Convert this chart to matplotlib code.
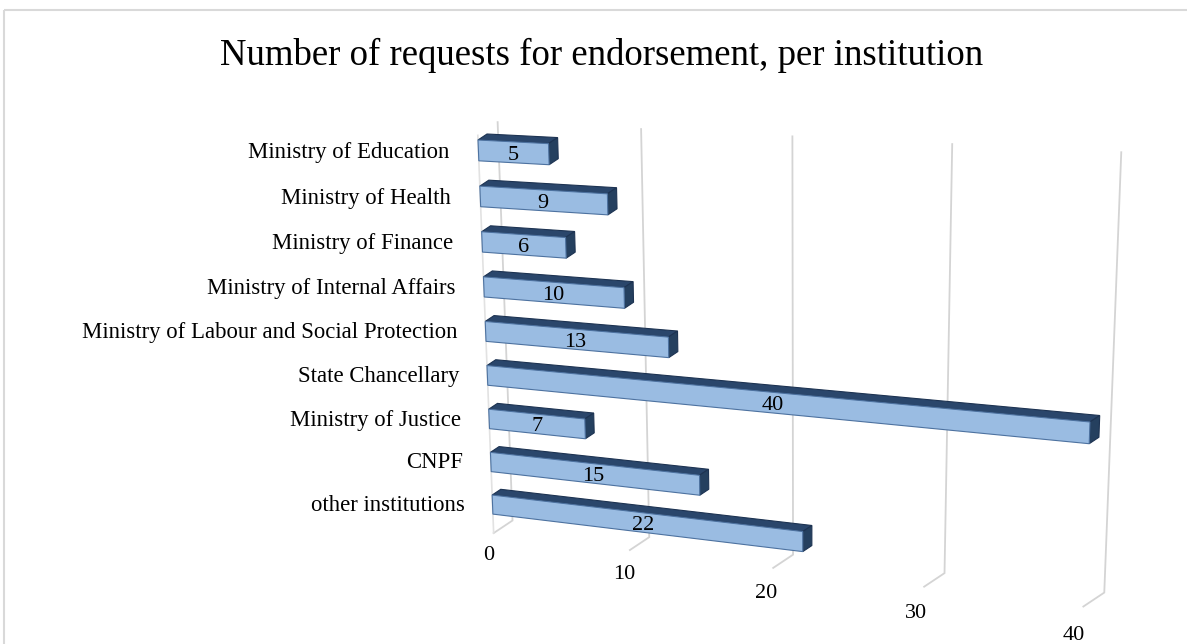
import matplotlib.pyplot as plt
from matplotlib.patches import Polygon, Rectangle

categories = ['Ministry of Education', 'Ministry of Health', 'Ministry of Finance',
              'Ministry of Internal Affairs', 'Ministry of Labour and Social Protection',
              'State Chancellary', 'Ministry of Justice', 'CNPF', 'other institutions']
values = [5, 9, 6, 10, 13, 40, 7, 15, 22]
ticks = [0, 10, 20, 30, 40]
title = 'Number of requests for endorsement, per institution'

# perspective camera (pixel space): v = value, r = row (down), d = depth (back)
BX, BY = 478.0, 140.0
KV, VX, VY = -0.00259, -4895.0, -138.0
KR, UX, UY = 0.00565, 805.0, 8350.0
EX, EY = 9.0, -6.0

HB = 0.45      # bar thickness in rows
DB = 1.0       # bar depth
D_WALL = 2.2
R_TOP = -0.1
R_FLOOR = 8.9
R_LABEL = 10.4


def proj(v, r, d=0.0):
    den = 1 + KV * v + KR * r
    x = (BX + KV * v * VX + KR * r * UX + d * EX) / den
    y = (BY + KV * v * VY + KR * r * UY + d * EY) / den
    return x, y


plt.rcParams['font.family'] = ['Liberation Serif', 'DejaVu Serif']

fig = plt.figure(figsize=(11.87, 6.44), dpi=100)
ax = fig.add_axes([0, 0, 1, 1])
ax.set_xlim(0, 1187)
ax.set_ylim(644, 0)
ax.axis('off')

# chart frame
ax.add_patch(Rectangle((4, 10), 1300, 700, fill=False, ec='#d9d9d9', lw=1.5))

grid_c = '#d4d4d4'
# back wall gridlines + floor segments
for t in ticks:
    p1 = proj(t, R_TOP, D_WALL)
    p2 = proj(t, R_FLOOR, D_WALL)
    p3 = proj(t, R_FLOOR, 0)
    ax.plot([p1[0], p2[0], p3[0]], [p1[1], p2[1], p3[1]], color=grid_c, lw=1.3,
            solid_joinstyle='miter', zorder=1)
# side wall front edge
p1 = proj(0, R_TOP, 0)
p2 = proj(0, R_FLOOR, 0)
ax.plot([p1[0], p2[0]], [p1[1], p2[1]], color='#e2e2e2', lw=1.2, zorder=1)

# bars
for i, val in enumerate(values):
    r0, r1 = i, i + HB
    top = [proj(0, r0, 0), proj(val, r0, 0), proj(val, r0, DB), proj(0, r0, DB)]
    end = [proj(val, r0, 0), proj(val, r0, DB), proj(val, r1, DB), proj(val, r1, 0)]
    front = [proj(0, r0, 0), proj(val, r0, 0), proj(val, r1, 0), proj(0, r1, 0)]
    ax.add_patch(Polygon(top, closed=True, fc='#2a466b', ec='#1d3352', lw=0.8, zorder=3))
    ax.add_patch(Polygon(end, closed=True, fc='#25405f', ec='#1d3352', lw=0.8, zorder=3))
    ax.add_patch(Polygon(front, closed=True, fc='#9abce2', ec='#4d72a0', lw=0.8, zorder=4))
    cx, cy = proj(val / 2, i + HB / 2, 0)
    ax.text(cx, cy + 3, str(val), ha='center', va='center', fontsize=16, zorder=5)
    lx, ly = proj(-2.1, i + HB / 2, 0)
    ax.text(lx, ly + 4, categories[i], ha='right', va='center', fontsize=16.4)

# value axis labels
for t in ticks:
    x, y = proj(t, R_LABEL, 0)
    ax.annotate(str(t), (x, y), xytext=(-7, 40), textcoords='offset pixels',
                ha='center', va='center', fontsize=16, annotation_clip=False)

ax.text(602, 55, title, ha='center', va='center', fontsize=26.5)

fig.savefig('out.png', dpi=100)
